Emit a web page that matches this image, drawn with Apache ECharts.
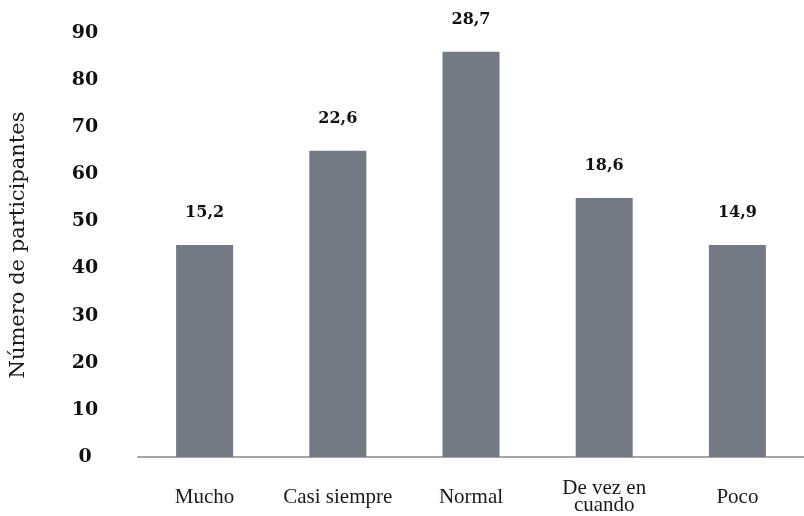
<!DOCTYPE html>
<html>
<head>
<meta charset="utf-8">
<script src="https://cdn.jsdelivr.net/npm/echarts@6/dist/echarts.min.js"></script>
<style>
  html, body { margin: 0; padding: 0; background: #ffffff; }
  #chart { width: 804px; height: 516px; }
</style>
</head>
<body>
<div id="chart"></div>
<script>
// Response categories
const categories = ['Mucho', 'Casi siempre', 'Normal', 'De vez en\ncuando', 'Poco'];
// Number of participants per category
const participantes = [45, 65, 86, 55, 45];
// Share of participants (%) printed above each bar
const porcentajes = ['15,2', '22,6', '28,7', '18,6', '14,9'];
// Y-axis ticks
const yMin = 0, yMax = 90, yStep = 10;

const chart = echarts.init(document.getElementById('chart'), null, { renderer: 'canvas' });

chart.setOption({
  animation: false,
  backgroundColor: '#ffffff',
  grid: { left: 133, right: 0, top: 33, bottom: 57, containLabel: false },
  xAxis: {
    type: 'category',
    data: categories,
    axisLine: { show: true, lineStyle: { color: '#a6a6a6', width: 2 } },
    axisTick: { show: false },
    axisLabel: {
      margin: 40,
      verticalAlign: 'middle',
      color: '#1a1a1a',
      fontFamily: '"Liberation Serif", serif',
      fontSize: 21,
      lineHeight: 17,
      interval: 0
    }
  },
  yAxis: {
    type: 'value',
    min: yMin,
    max: yMax,
    interval: yStep,
    name: 'Número de participantes',
    nameLocation: 'middle',
    nameGap: 109,
    nameTextStyle: {
      color: '#1a1a1a',
      fontFamily: '"DejaVu Serif", serif',
      fontSize: 21
    },
    axisLine: { show: false },
    axisTick: { show: false },
    splitLine: { show: false },
    axisLabel: {
      margin: 53,
      align: 'center',
      color: '#111111',
      fontFamily: '"DejaVu Serif", serif',
      fontWeight: 'bold',
      fontSize: 19
    }
  },
  series: [{
    type: 'bar',
    data: participantes,
    barWidth: 57,
    itemStyle: { color: '#737a84' },
    label: {
      show: true,
      position: 'top',
      distance: 24,
      color: '#111111',
      fontFamily: '"DejaVu Serif", serif',
      fontWeight: 'bold',
      fontSize: 16,
      formatter: (p) => porcentajes[p.dataIndex]
    }
  }]
});
</script>
</body>
</html>
